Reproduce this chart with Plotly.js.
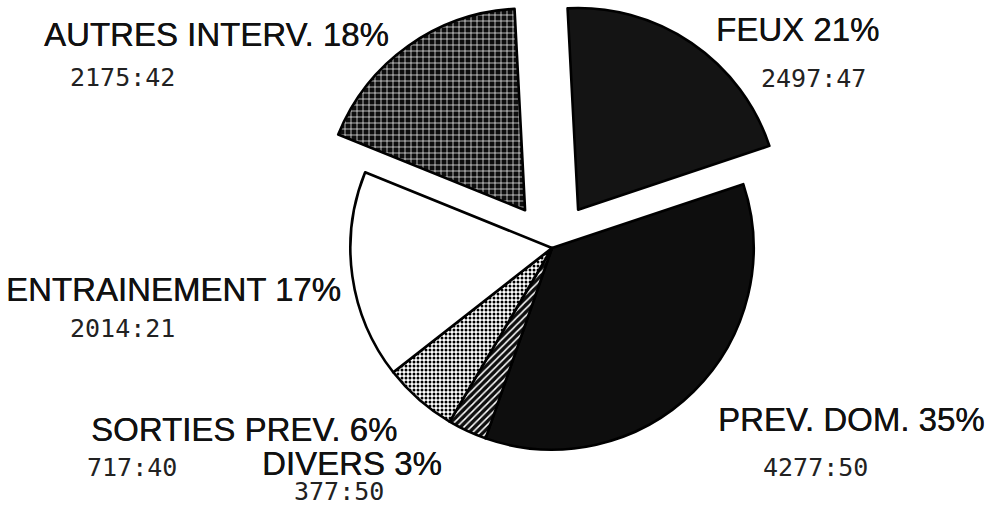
<!DOCTYPE html>
<html>
<head>
<meta charset="utf-8">
<script src="https://cdn.plot.ly/plotly-3.0.1.min.js"></script>
<style>
  html, body { margin: 0; padding: 0; background: #ffffff; }
  #chart { width: 994px; height: 507px; }
</style>
</head>
<body>
<div id="chart"></div>
<script>
// Time spent per activity (hours:minutes), clockwise from 12 o'clock
const categories = ["FEUX", "PREV. DOM.", "DIVERS", "SORTIES PREV.", "ENTRAINEMENT", "AUTRES INTERV."];
const durations  = ["2497:47", "4277:50", "377:50", "717:40", "2014:21", "2175:42"];
const pulled     = [0.23, 0, 0, 0, 0, 0.23];

// slice sizes in hours, taken from the hh:mm strings
const hours = durations.map(function (d) {
  const p = d.split(":");
  return Number(p[0]) + Number(p[1]) / 60;
});
const total = hours.reduce(function (a, b) { return a + b; }, 0);
const percents = hours.map(function (h) { return Math.round(100 * h / total); });

// fills: dark grain, dark grain, white hatch on black, dots, white, white grid on black
const fills = ["#141414", "#0e0e0e", "#0e0e0e", "#ffffff", "#ffffff", "#0e0e0e"];
const patterns = {
  shape:    ["", "", "/", ".", "", "+"],
  fgcolor:  ["#000", "#000", "#ffffff", "#000000", "#000", "#ffffff"],
  bgcolor:  ["#141414", "#0e0e0e", "#0e0e0e", "#ffffff", "#ffffff", "#0e0e0e"],
  size:     [6, 6, 5, 4, 6, 6],
  solidity: [0.3, 0.3, 0.3, 0.45, 0.3, 0.22],
  fillmode: "replace"
};

// label anchor points in pixels (name line, value line)
const namePos  = [[797, 30], [851, 419], [352, 463], [244, 429], [173, 289], [216, 34]];
const valuePos = [[813, 78], [815, 467], [339, 491], [132, 467], [122, 328], [122, 77]];

const W = 994, H = 507;

const nameFont = {
  family: "Liberation Sans, Arial, sans-serif", size: 33, color: "#111111",
  shadow: "0.35px 0 0 #111111"
};
const valueFont = { family: "DejaVu Sans Mono, monospace", size: 25, color: "#222222" };

const trace = {
  type: "pie",
  values: hours,
  labels: categories,
  sort: false,
  direction: "clockwise",
  rotation: -3,
  pull: pulled,
  textinfo: "none",
  hoverinfo: "label+percent",
  showlegend: false,
  domain: { x: [303.5 / W, 800.5 / W], y: [0.0217, 1] },
  marker: {
    colors: fills,
    pattern: patterns,
    line: { color: "#000000", width: 2.6 }
  }
};

const annotations = [];
categories.forEach(function (c, i) {
  annotations.push({
    xref: "paper", yref: "paper",
    x: namePos[i][0] / W, y: 1 - namePos[i][1] / H,
    xanchor: "center", yanchor: "middle",
    text: c + " " + percents[i] + "%",
    showarrow: false,
    borderpad: 0,
    font: nameFont
  });
  annotations.push({
    xref: "paper", yref: "paper",
    x: valuePos[i][0] / W, y: 1 - valuePos[i][1] / H,
    xanchor: "center", yanchor: "middle",
    text: durations[i],
    showarrow: false,
    borderpad: 0,
    font: valueFont
  });
});

const layout = {
  width: W, height: H,
  margin: { l: 0, r: 0, t: 0, b: 0 },
  paper_bgcolor: "#ffffff",
  plot_bgcolor: "#ffffff",
  annotations: annotations
};

Plotly.newPlot("chart", [trace], layout, { displayModeBar: false, staticPlot: true });
</script>
</body>
</html>
